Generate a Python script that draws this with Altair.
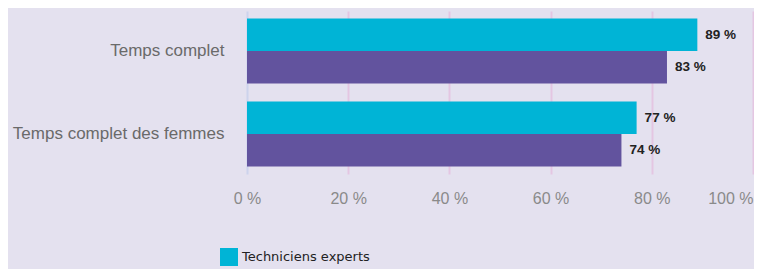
import altair as alt
import pandas as pd

categories = ["Temps complet", "Temps complet des femmes"]
series = ["Techniciens experts", "Ensemble des salariés"]
tech_values = [89, 77]
all_values = [83, 74]
labels_tech = ["89 %", "77 %"]
labels_all = ["83 %", "74 %"]

rows = []
for i, c in enumerate(categories):
    rows.append({"cat": c, "serie": series[0], "val": tech_values[i], "lab": labels_tech[i]})
    rows.append({"cat": c, "serie": series[1], "val": all_values[i], "lab": labels_all[i]})
df = pd.DataFrame(rows)

y = alt.Y("cat:N", sort=categories, title=None,
          scale=alt.Scale(paddingInner=0.217, paddingOuter=0.09),
          axis=alt.Axis(domain=False, ticks=False, labelPadding=23, labelFontSize=17,
                        labelColor="#6a6a6a", labelFont="Liberation Sans", labelLimit=300))
yoff = alt.YOffset("serie:N", sort=series, scale=alt.Scale(paddingInner=0, paddingOuter=0))

x = alt.X("val:Q", title=None,
          scale=alt.Scale(domain=[0, 100], nice=False),
          axis=alt.Axis(values=[0, 20, 40, 60, 80, 100], labelExpr="datum.value + ' %'",
                        domain=False, ticks=False, labelPadding=16, labelFontSize=16,
                        labelColor="#8a8a8a", labelFont="Liberation Sans",
                        labelAlign={"expr": "datum.value == 100 ? 'right' : 'center'"},
                        grid=True, gridWidth=2,
                        gridColor={"expr": "datum.value == 0 ? '#cdd3ec' : '#e4c6e2'"},
                        labelFlush=False))

bars = alt.Chart(df).mark_bar(stroke=None).encode(
    x=x, y=y, yOffset=yoff,
    color=alt.Color("serie:N", sort=series,
                    scale=alt.Scale(domain=series, range=["#00b4d6", "#62539e"]),
                    legend=alt.Legend(title=None, orient="none", legendX=-27, legendY=237,
                                      values=[series[0]],
                                      symbolType="square", symbolSize=324, symbolStrokeWidth=0,
                                      symbolOpacity=1,
                                      labelFontSize=13, labelColor="#222222",
                                      labelFont="DejaVu Sans", rowPadding=6, labelOffset=4)),
)

text = alt.Chart(df).mark_text(align="left", baseline="middle", dx=8, fontSize=13.5,
                               fontWeight="bold", color="#222222", font="Liberation Sans").encode(
    x="val:Q", y=alt.Y("cat:N", sort=categories), yOffset=alt.YOffset("serie:N", sort=series), text="lab:N"
)

chart = (bars + text).properties(
    width=506, height=163,
    background="#e4e1ef",
    padding={"left": 239, "top": 3, "right": 1, "bottom": 95},
    autosize=alt.AutoSizeParams(type="none"),
).configure_view(stroke=None)

chart.save("out.html", embed_options={"renderer": "svg", "actions": False})
